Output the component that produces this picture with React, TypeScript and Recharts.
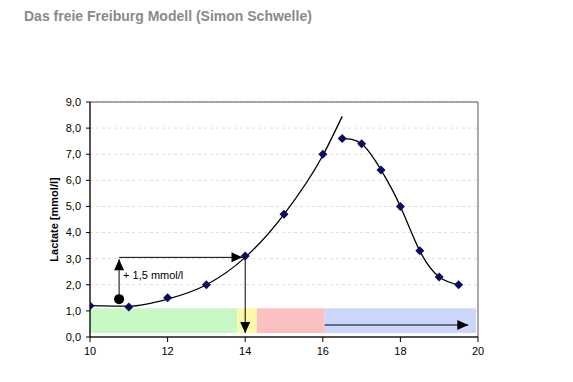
import { ComposedChart, Line, Scatter, XAxis, YAxis, CartesianGrid, ReferenceArea, ReferenceDot } from 'recharts';

// measured step test values (speed km/h, lactate mmol/l)
const speeds = [10, 11, 12, 13, 14, 15, 16, 16.5, 17, 17.5, 18, 18.5, 19, 19.5];
const lactate = [1.2, 1.15, 1.5, 2.0, 3.1, 4.7, 7.0, 7.6, 7.4, 6.4, 5.0, 3.3, 2.3, 2.0];

// fitted curve (rising part) and smoothed curve (recovery part)
const riseX = [10, 11, 12, 13, 14, 15, 16, 16.5];
const riseY = [1.2, 1.18, 1.45, 2.0, 3.05, 4.7, 6.95, 8.45];
const fallX = [16.5, 17, 17.5, 18, 18.5, 19, 19.5];
const fallY = [7.6, 7.4, 6.4, 5.0, 3.3, 2.3, 2.0];

// zones under the curve
const zones = [
  { from: 10, to: 13.8, color: '#c8f9c4' },
  { from: 13.8, to: 14.3, color: '#fbf9a8' },
  { from: 14.3, to: 16.05, color: '#fbc0c0' },
  { from: 16.05, to: 19.95, color: '#ccd6fb' },
];
const zoneBottom = 0.15;
const zoneTop = 1.1;

const xTicks = [10, 12, 14, 16, 18, 20];
const yTicks = [0, 1, 2, 3, 4, 5, 6, 7, 8, 9];

// the +1,5 mmol/l construction
const startDot = { x: 10.75, y: 1.45 };
const arrowUp = [{ x: 10.75, y: 1.45 }, { x: 10.75, y: 2.98 }];
const arrowAcross = [{ x: 10.75, y: 3.05 }, { x: 13.93, y: 3.05 }];
const arrowDown = [{ x: 14, y: 3.1 }, { x: 14, y: 0.15 }];
const arrowOn = [{ x: 16.05, y: 0.46 }, { x: 19.75, y: 0.46 }];
const stepLabel = '+ 1,5 mmol/l';

const zip = (xs: number[], ys: number[]) => xs.map((x, i) => ({ x, y: ys[i] }));
const points = zip(speeds, lactate);
const rise = zip(riseX, riseY);
const fall = zip(fallX, fallY);

const fmt = (v: number) => v.toFixed(1).replace('.', ',');

const Diamond = (props: any) => {
  const { cx, cy } = props;
  const r = 4.5;
  return <polygon points={`${cx},${cy - r} ${cx + r},${cy} ${cx},${cy + r} ${cx - r},${cy}`} fill="#0b0b63" />;
};

function arrowHead(dir: 'up' | 'down' | 'right') {
  return (props: any) => {
    const { cx, cy, index } = props;
    if (index !== 1) return <g key={`n-${index}`} />;
    let pts = '';
    if (dir === 'up') pts = `${cx},${cy} ${cx - 5},${cy + 11} ${cx + 5},${cy + 11}`;
    if (dir === 'down') pts = `${cx},${cy} ${cx - 5},${cy - 11} ${cx + 5},${cy - 11}`;
    if (dir === 'right') pts = `${cx},${cy} ${cx - 11},${cy - 5} ${cx - 11},${cy + 5}`;
    return <polygon key={`a-${index}`} points={pts} fill="#000" />;
  };
}

const font = '"Liberation Sans", Arial, sans-serif';

export default function App() {
  return (
    <div style={{ position: 'absolute', left: 0, top: 0, width: 573, height: 382, background: '#fff', fontFamily: font }}>
      <div style={{ position: 'absolute', left: 24, top: 8, fontSize: 14, fontWeight: 'bold', color: '#8a8a8a' }}>
        Das freie Freiburg Modell (Simon Schwelle)
      </div>
      <ComposedChart width={573} height={382} margin={{ top: 102, right: 95, bottom: 0, left: 0 }}>
        <CartesianGrid horizontal vertical={false} stroke="#dedede" strokeDasharray="3 3" />
        <XAxis
          dataKey="x"
          type="number"
          domain={[10, 20]}
          ticks={xTicks}
          height={45}
          tickSize={5}
          tickMargin={5}
          stroke="#000"
          tick={{ fill: '#000', fontSize: 11, fontFamily: font }}
          allowDataOverflow
        />
        <YAxis
          dataKey="y"
          type="number"
          domain={[0, 9]}
          ticks={yTicks}
          width={90}
          tickSize={4}
          tickMargin={5}
          tickFormatter={fmt}
          stroke="#000"
          tick={{ fill: '#000', fontSize: 11, fontFamily: font }}
          label={(p: any) => {
            const vb = p.viewBox || { x: 0, y: 102, width: 90, height: 235 };
            const cx = 54;
            const cy = vb.y + vb.height / 2;
            return (
              <text x={cx} y={cy} transform={`rotate(-90 ${cx} ${cy})`} textAnchor="middle" dominantBaseline="central"
                fontSize={11} fontWeight="bold" fontFamily={font} fill="#000">
                Lactate [mmol/l]
              </text>
            );
          }}
        />
        {zones.map((z) => (
          <ReferenceArea key={z.from} x1={z.from} x2={z.to} y1={zoneBottom} y2={zoneTop} fill={z.color} fillOpacity={1} stroke="none" />
        ))}
        <ReferenceArea x1={10} x2={20} y1={0} y2={9} fill="none" stroke="#555" strokeWidth={1} />
        <Line data={rise} dataKey="y" type="monotone" stroke="#000" strokeWidth={1.3} dot={false} isAnimationActive={false} />
        <Line data={fall} dataKey="y" type="natural" stroke="#000" strokeWidth={1.3} dot={false} isAnimationActive={false} />
        <Line data={arrowUp} dataKey="y" type="linear" stroke="#000" strokeWidth={1} dot={arrowHead('up')} isAnimationActive={false} />
        <Line data={arrowAcross} dataKey="y" type="linear" stroke="#000" strokeWidth={1} dot={arrowHead('right')} isAnimationActive={false} />
        <Line data={arrowDown} dataKey="y" type="linear" stroke="#000" strokeWidth={1} dot={arrowHead('down')} isAnimationActive={false} />
        <Line data={arrowOn} dataKey="y" type="linear" stroke="#000" strokeWidth={1} dot={arrowHead('right')} isAnimationActive={false} />
        <Scatter data={points} dataKey="y" shape={Diamond} isAnimationActive={false} />
        <ReferenceDot x={startDot.x} y={startDot.y} r={5} fill="#000" stroke="none"
          label={(p: any) => {
            const vb = p.viewBox || { x: 119, y: 299, width: 0, height: 0 };
            const x = vb.x + vb.width / 2 + 4;
            const y = vb.y + vb.height / 2 - 24;
            return (
              <text x={x} y={y} fontSize={11} fontFamily={font} fill="#000" dominantBaseline="central">
                {stepLabel}
              </text>
            );
          }} />
      </ComposedChart>
    </div>
  );
}
